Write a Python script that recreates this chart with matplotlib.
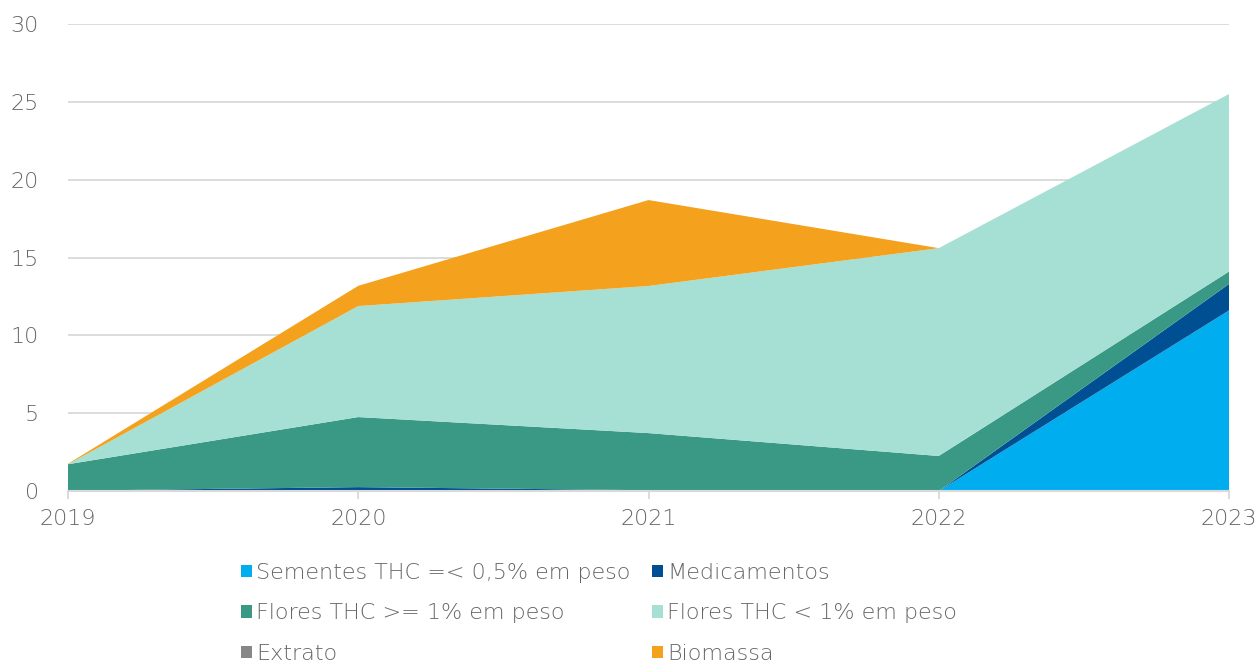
import numpy as np
import matplotlib.pyplot as plt

plt.rcParams['font.family'] = ['DejaVu Sans']
plt.rcParams['font.weight'] = 200

# data
years = [2019, 2020, 2021, 2022, 2023]
sementes = [0.0, 0.0, 0.0, 0.0, 11.6]
medicamentos = [0.02, 0.25, 0.05, 0.0, 1.7]
flores_alto = [1.7, 4.5, 3.67, 2.25, 0.8]
flores_baixo = [0.0, 7.13, 9.45, 13.35, 11.4]
extrato = [0.0, 0.0, 0.0, 0.0, 0.0]
biomassa = [0.03, 1.3, 5.52, 0.0, 0.0]

labels = ['Sementes THC =< 0,5% em peso', 'Medicamentos',
          'Flores THC >= 1% em peso', 'Flores THC < 1% em peso',
          'Extrato', 'Biomassa']
colors = ['#00AEEF', '#004F93', '#3A9985', '#A6DFD4', '#878787', '#F4A11D']

fig = plt.figure(figsize=(12.6, 6.64), dpi=100)
ax = fig.add_axes([68 / 1260, 1 - 491 / 664, (1229 - 68) / 1260, (491 - 24) / 664])

ax.stackplot(years, sementes, medicamentos, flores_alto, flores_baixo,
             extrato, biomassa, colors=colors, labels=labels, linewidth=0)

ax.set_xlim(2019, 2023)
ax.set_ylim(0, 30)
ax.set_yticks(np.arange(0, 31, 5))
ax.set_xticks(years)
ax.grid(axis='y', color='#D9D9D9', linewidth=1.3)
ax.set_axisbelow(True)
for s in ['top', 'right', 'left']:
    ax.spines[s].set_visible(False)
ax.spines['bottom'].set_color('#D9D9D9')
ax.spines['bottom'].set_linewidth(1.5)
ax.spines['bottom'].set_zorder(5)
ax.tick_params(axis='y', length=0, pad=21, labelsize=16, labelcolor='#666666')
ax.tick_params(axis='x', length=6, color='#D9D9D9', width=1.3, pad=7,
               labelsize=16, labelcolor='#666666')

# row-wise legend order
handles, labs = ax.get_legend_handles_labels()
order = [0, 2, 4, 1, 3, 5]
leg = fig.legend([handles[i] for i in order], [labs[i] for i in order],
                 ncol=2, loc='upper left',
                 bbox_to_anchor=(232 / 1260, 1 - 554 / 664), frameon=False,
                 fontsize=16, labelcolor='#666666', handlelength=0.5,
                 handleheight=0.5, handletextpad=0.2, columnspacing=0.95,
                 labelspacing=0.92, borderaxespad=0)

fig.savefig('out.png', dpi=100)
